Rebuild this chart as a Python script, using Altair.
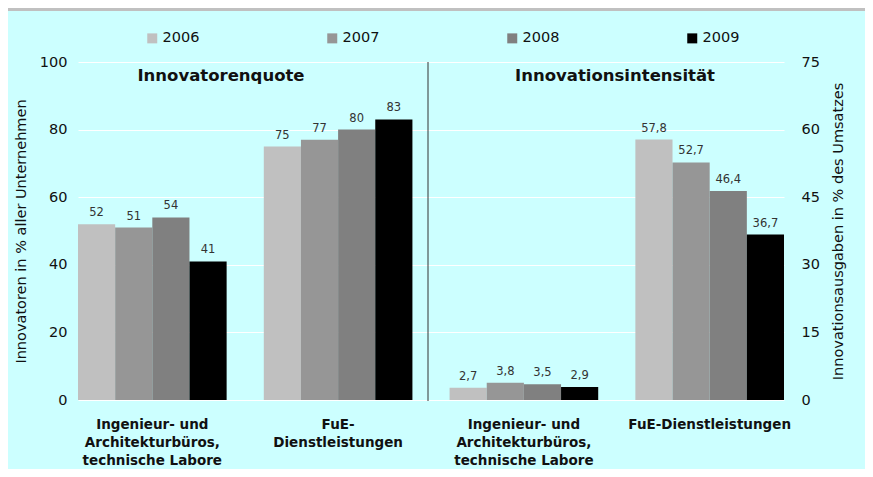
import json
import altair as alt
import pandas as pd

# ---- data ----
years = ["2006", "2007", "2008", "2009"]
year_colors = ["#C0C0C0", "#969696", "#808080", "#000000"]
cat_keys = ["L1", "L2", "R1", "R2"]
cat_labels = [
    ["Ingenieur- und", "Architekturbüros,", "technische Labore"],
    ["FuE-", "Dienstleistungen"],
    ["Ingenieur- und", "Architekturbüros,", "technische Labore"],
    ["FuE-Dienstleistungen"],
]
panel_titles = ["Innovatorenquote", "Innovationsintensität"]
left_title = "Innovatoren in % aller Unternehmen"
right_title = "Innovationsausgaben in % des Umsatzes"

quote_ing = [52, 51, 54, 41]
quote_fue = [75, 77, 80, 83]
int_ing = [2.7, 3.8, 3.5, 2.9]
int_fue = [57.8, 52.7, 46.4, 36.7]

left_rows, right_rows = [], []
for i, y in enumerate(years):
    left_rows.append({"cat": "L1", "year": y, "value": quote_ing[i], "lab": str(quote_ing[i])})
    left_rows.append({"cat": "L2", "year": y, "value": quote_fue[i], "lab": str(quote_fue[i])})
    right_rows.append({"cat": "R1", "year": y, "value": int_ing[i], "lab": f"{int_ing[i]:.1f}".replace(".", ",")})
    right_rows.append({"cat": "R2", "year": y, "value": int_fue[i], "lab": f"{int_fue[i]:.1f}".replace(".", ",")})
left_df = pd.DataFrame(left_rows)
right_df = pd.DataFrame(right_rows)

FONT = "DejaVu Sans"
label_expr = json.dumps(dict(zip(cat_keys, cat_labels)), ensure_ascii=False) + "[datum.value]"

X = alt.X(
    "cat:N",
    scale=alt.Scale(domain=cat_keys, paddingInner=0.2, paddingOuter=0),
    axis=alt.Axis(
        title=None, labelExpr=label_expr, labelAngle=0, domain=False, ticks=False,
        labelFont=FONT, labelFontSize=13.5, labelFontWeight="bold", labelColor="#111111",
        labelLineHeight=18, labelPadding=17, labelLimit=300,
    ),
)
XO = alt.XOffset("year:N", scale=alt.Scale(domain=years, paddingInner=0, paddingOuter=0))
COLOR = alt.Color(
    "year:N",
    scale=alt.Scale(domain=years, range=year_colors),
    legend=alt.Legend(
        title=None, orient="none", legendX=67, legendY=-31, direction="horizontal",
        symbolType="square", symbolSize=100, symbolStrokeWidth=0, labelOffset=3,
        labelFont=FONT, labelFontSize=14.5, labelColor="#111111", columnPadding=125,
    ),
)

Y_left = alt.Y(
    "value:Q",
    scale=alt.Scale(domain=[0, 100], nice=False),
    axis=alt.Axis(
        orient="left", values=[0, 20, 40, 60, 80, 100], grid=True, gridColor="white",
        gridWidth=1, domain=False, ticks=False, labelPadding=11, labelFont=FONT,
        labelFontSize=14.5, labelColor="#111111", title=left_title, titleFont=FONT,
        titleFontSize=14.5, titleFontWeight="normal", titleColor="#111111", titlePadding=11,
    ),
)
Y_right = alt.Y(
    "value:Q",
    scale=alt.Scale(domain=[0, 75], nice=False),
    axis=alt.Axis(
        orient="right", values=[0, 15, 30, 45, 60, 75], grid=False, domain=False,
        ticks=False, labelPadding=17, labelFont=FONT, labelFontSize=14.5, labelColor="#111111",
        title=right_title, titleFont=FONT, titleFontSize=14.5, titleFontWeight="normal",
        titleColor="#111111", titleAngle=270, titlePadding=26,
    ),
)

def panel(df, Y):
    base = alt.Chart(df)
    bars = base.mark_bar().encode(x=X, xOffset=XO, y=Y, color=COLOR)
    text = base.mark_text(
        baseline="alphabetic", dy=-8, font=FONT, fontSize=11.5, color="#333333"
    ).encode(x=X, xOffset=XO, y=Y, text="lab:N")
    return alt.layer(bars, text)

left = panel(left_df, Y_left)
right = panel(right_df, Y_right)

divider = alt.Chart(pd.DataFrame({"a": [0]})).mark_rule(color="#333333", strokeWidth=1).encode(
    x=alt.value(350), y=alt.value(0), y2=alt.value(339)
)
title_l = alt.Chart(pd.DataFrame({"t": [panel_titles[0]]})).mark_text(
    font=FONT, fontSize=16.5, fontWeight="bold", color="#111111", baseline="middle"
).encode(x=alt.value(143), y=alt.value(14), text="t:N")
title_r = alt.Chart(pd.DataFrame({"t": [panel_titles[1]]})).mark_text(
    font=FONT, fontSize=16.5, fontWeight="bold", color="#111111", baseline="middle"
).encode(x=alt.value(537), y=alt.value(14), text="t:N")
top_bar = alt.Chart(pd.DataFrame({"a": [0]})).mark_rect(color="#C0C0C0").encode(
    x=alt.value(-70), x2=alt.value(787), y=alt.value(-54), y2=alt.value(-51)
)

chart = (
    alt.layer(left, right, divider, title_l, title_r, top_bar)
    .resolve_scale(y="independent")
    .properties(
        width=706, height=338,
        autosize=alt.AutoSizeParams(type="none"),
        padding={"left": 70, "top": 54, "right": 81, "bottom": 69},
        background="#CCFFFF",
    )
    .configure_view(stroke=None)
)

chart.save("out.html", embed_options={"renderer": "svg", "actions": False})
